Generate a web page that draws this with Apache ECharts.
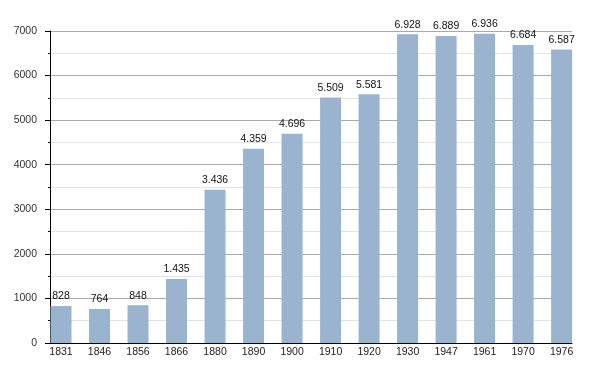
<!DOCTYPE html>
<html>
<head>
<meta charset="utf-8">
<script src="https://cdn.jsdelivr.net/npm/echarts@6/dist/echarts.min.js"></script>
<style>html,body{margin:0;padding:0;background:#fff}#c{width:601px;height:373px}</style>
</head>
<body>
<div id="c"></div>
<script>
const years = ['1831','1846','1856','1866','1880','1890','1900','1910','1920','1930','1947','1961','1970','1976'];
const population = [828,764,848,1435,3436,4359,4696,5509,5581,6928,6889,6936,6684,6587];
const yTicks = [0,1000,2000,3000,4000,5000,6000,7000];

function fmt(v){
  const s = String(v);
  return s.length > 3 ? s.slice(0, s.length-3) + '.' + s.slice(-3) : s;
}
const font = 'Liberation Sans, Arial, sans-serif';
const chart = echarts.init(document.getElementById('c'));
chart.setOption({
  animation: false,
  grid: {left: 50, right: 29, top: 31, bottom: 30, containLabel: false},
  xAxis: {
    type: 'value', min: -0.286, max: 13.27,
    axisLine: {show: true, onZero: false, lineStyle: {color: '#000', width: 1}},
    axisTick: {show: false},
    splitLine: {show: false},
    axisLabel: {
      customValues: years.map((y,i)=>i),
      formatter: v => years[Math.round(v)],
      color: '#222', fontSize: 10.5, fontFamily: font, margin: 4
    }
  },
  yAxis: [{
    type: 'value', position: 'left', min: yTicks[0], max: yTicks[yTicks.length-1], interval: 500,
    axisLine: {show: true, onZero: false, lineStyle: {color: '#000', width: 1}},
    axisTick: {show: true, length: 2, lineStyle: {color: '#000'}},
    splitLine: {show: true, lineStyle: {color: ['#aaaaaa', '#e3e3e3'], width: 1}},
    axisLabel: {color: '#333', fontSize: 10.5, fontFamily: font, margin: 13,
      customValues: yTicks,
      formatter: v => (yTicks.indexOf(v) >= 0 ? String(v) : '')}
  }, {
    type: 'value', position: 'left', offset: 0, min: yTicks[0], max: yTicks[yTicks.length-1], interval: 1000,
    axisLine: {show: false, onZero: false},
    axisTick: {show: true, length: 5, lineStyle: {color: '#000'}},
    splitLine: {show: false},
    axisLabel: {show: false}
  }],
  series: [{
    type: 'bar',
    yAxisIndex: 0,
    data: population.map((v,i)=>[i,v]),
    barWidth: 21,
    itemStyle: {color: '#9ab3cf'},
    label: {show: true, position: 'top', distance: 4, formatter: p => fmt(p.value[1]),
      color: '#111', fontSize: 10.5, fontFamily: font}
  }]
});
</script>
</body>
</html>
